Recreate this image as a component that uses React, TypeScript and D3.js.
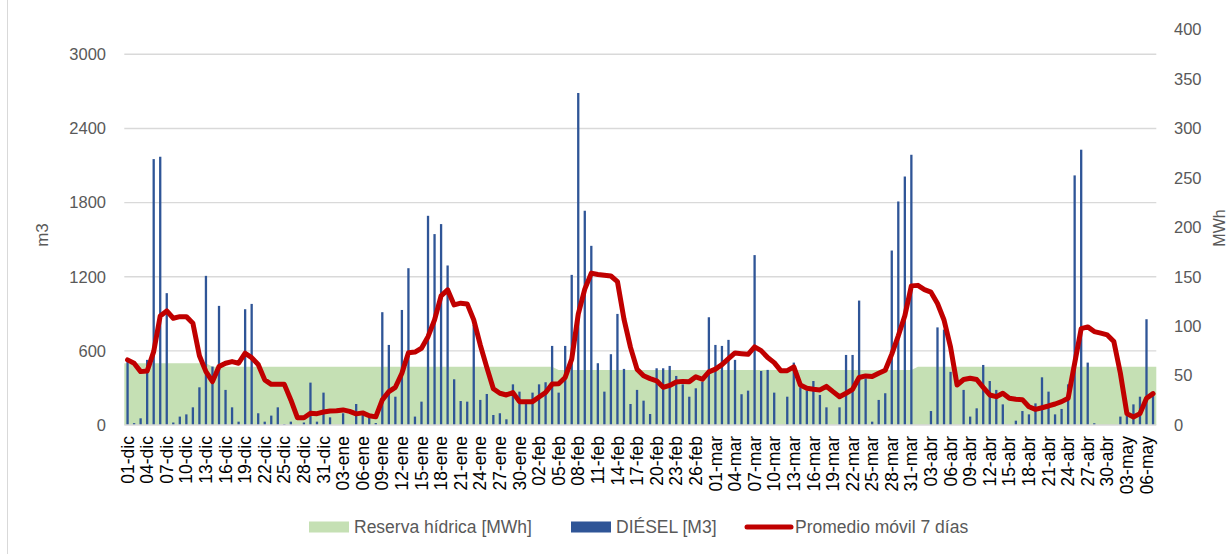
import React, { useEffect, useRef } from 'react';
import * as d3 from 'd3';

const WIDTH = 1228;
const HEIGHT = 554;
const PLOT = { left: 124.3, right: 1156.3, top: 29.6, bottom: 425 };
const FONT = "'Liberation Sans', Arial, sans-serif";

// one category per day, 01-dic .. 07-may
const MONTHS = ['dic', 'ene', 'feb', 'mar', 'abr', 'may'];
const MONTH_DAYS = [31, 31, 28, 31, 30, 7];

const DAYS: string[] = [];
MONTHS.forEach((m, i) => {
  for (let d = 1; d <= MONTH_DAYS[i]; d++) DAYS.push(`${String(d).padStart(2, '0')}-${m}`);
});

// DIÉSEL [M3], left axis
const DIESEL = [
  540, 15, 54, 527, 2152, 2171, 1067, 20, 68, 86, 143, 305, 1207, 473, 964, 284, 143, 27, 937, 980,
  95, 27, 76, 143, 8, 27, 0, 20, 343, 27, 262, 62, 0, 95, 0, 170, 81, 62, 16, 913,
  648, 229, 931, 1269, 68, 189, 1693, 1545, 1626, 1291, 370, 194, 189, 810, 203, 251, 81, 95, 46, 329,
  270, 189, 262, 329, 346, 640, 262, 640, 1215, 2687, 1734, 1450, 500, 270, 573, 899, 454, 170, 284, 197,
  89, 459, 459, 478, 397, 329, 229, 297, 350, 872, 648, 640, 689, 527, 249, 278, 1375, 437, 446, 262,
  0, 229, 505, 305, 278, 356, 243, 143, 0, 143, 567, 567, 1007, 378, 27, 203, 257, 1412, 1809, 2011,
  2187, 0, 0, 113, 790, 772, 430, 0, 284, 68, 135, 486, 356, 284, 167, 0, 35, 113, 86, 175,
  386, 270, 86, 130, 329, 2020, 2228, 505, 14, 0, 0, 0, 68, 122, 167, 229, 856, 270,
];

// Promedio móvil 7 días, left axis
const PROMEDIO = [
  527, 500, 432, 437, 594, 883, 923, 864, 877, 877, 824, 560, 432, 351, 473, 500, 513, 500, 581, 545,
  490, 365, 329, 329, 329, 203, 59, 59, 95, 92, 105, 113, 115, 122, 110, 90, 98, 75, 66, 203,
  270, 305, 419, 584, 590, 621, 715, 851, 1045, 1094, 972, 986, 980, 851, 648, 466, 293, 257, 243, 262,
  189, 189, 189, 226, 263, 331, 334, 385, 533, 898, 1100, 1229, 1218, 1212, 1206, 1161, 857, 628, 452, 398,
  375, 358, 305, 320, 348, 353, 351, 390, 370, 430, 452, 489, 537, 583, 577, 572, 632, 602, 546, 505,
  440, 440, 470, 324, 297, 289, 284, 313, 270, 229, 257, 289, 384, 397, 392, 419, 443, 574, 722, 884,
  1126, 1130, 1096, 1075, 983, 850, 630, 324, 368, 378, 368, 304, 243, 229, 257, 216, 208, 205, 148, 127,
  140, 154, 170, 189, 216, 500, 780, 794, 756, 743, 729, 675, 419, 92, 65, 92, 216, 254,
];

// Reserva hídrica [MWh], right axis
const RESERVA = [
  62.5, 62.5, 62.5, 62.5, 62.5, 62.5, 62.5, 62.5, 62.5, 62.5, 62.5, 62.5, 62.5,
  59, 59, 59, 59, 59, 59, 59, 59, 59, 59, 59, 59, 59, 59, 59, 59, 59, 59, 59, 59,
  59, 59, 59, 59, 59, 59, 59, 59, 59, 59, 59, 59, 59, 59, 59, 59, 59, 59, 59, 59,
  59, 59, 59, 59, 59, 59, 59, 59, 59, 59, 59, 59, 59,
  55.7, 55.7, 55.7, 55.7, 55.7, 55.7, 55.7, 55.7, 55.7, 55.7, 55.7, 55.7, 55.7, 55.7,
  55.7, 55.7, 55.7, 55.7, 55.7, 55.7, 55.7, 55.7, 55.7, 55.7, 55.7, 55.7, 55.7, 55.7,
  55.7, 55.7, 55.7, 55.7, 55.7, 55.7, 55.7, 55.7, 55.7, 55.7, 55.7, 55.7, 55.7, 55.7,
  55.7, 55.7, 55.7, 55.7, 55.7, 55.7, 55.7, 55.7, 55.7, 55.7, 55.7, 55.7, 55.7,
  59, 59, 59, 59, 59, 59, 59, 59, 59, 59, 59, 59, 59, 59, 59, 59, 59, 59, 59,
  59, 59, 59, 59, 59, 59, 59, 59, 59, 59, 59, 59, 59, 59, 59, 59, 59, 59,
];

const LEFT_TICKS = [0, 600, 1200, 1800, 2400, 3000];
const RIGHT_TICKS = [0, 50, 100, 150, 200, 250, 300, 350, 400];

const LEGEND = [
  { label: 'Reserva hídrica [MWh]', kind: 'area', color: '#C5E0B4', x: 309 },
  { label: 'DIÉSEL [M3]', kind: 'bar', color: '#2F5597', x: 571 },
  { label: 'Promedio móvil 7 días', kind: 'line', color: '#C00000', x: 747 },
];

const App: React.FC = () => {
  const svgRef = useRef<SVGSVGElement>(null);

  useEffect(() => {
    if (!svgRef.current) return;
    const svg = d3.select(svgRef.current);
    svg.selectAll('*').remove();

    const x = d3.scaleBand<string>().domain(DAYS).range([PLOT.left, PLOT.right]).paddingInner(0).paddingOuter(0);
    const bw = x.bandwidth();
    const cx = (i: number) => (x(DAYS[i]) as number) + bw / 2;
    const yL = d3.scaleLinear().domain([0, 3200]).range([PLOT.bottom, PLOT.top]);
    const yR = d3.scaleLinear().domain([0, 400]).range([PLOT.bottom, PLOT.top]);

    svg.append('rect').attr('width', WIDTH).attr('height', HEIGHT).attr('fill', '#fff');
    svg.append('line')
      .attr('x1', 7.5).attr('x2', 7.5).attr('y1', 0).attr('y2', HEIGHT)
      .attr('stroke', '#D9D9D9').attr('stroke-width', 1);

    // gridlines (left axis)
    svg.append('g').selectAll('line').data(LEFT_TICKS.slice(1)).join('line')
      .attr('x1', PLOT.left).attr('x2', PLOT.right)
      .attr('y1', d => yL(d)).attr('y2', d => yL(d))
      .attr('stroke', '#D9D9D9').attr('stroke-width', 1.4);

    // reserva area (secondary axis), stretched to plot edges
    const pts: [number, number][] = RESERVA.map((v, i) => [cx(i), yR(v)]);
    pts.unshift([PLOT.left, yR(RESERVA[0])]);
    pts.push([PLOT.right, yR(RESERVA[RESERVA.length - 1])]);
    const area = d3.area<[number, number]>().x(d => d[0]).y0(PLOT.bottom).y1(d => d[1]);
    svg.append('path').attr('d', area(pts) as string).attr('fill', '#C5E0B4');

    // diesel bars
    const barW = 2.3;
    svg.append('g').selectAll('rect').data(DIESEL).join('rect')
      .attr('x', (_, i) => cx(i) - barW / 2)
      .attr('y', d => yL(d))
      .attr('width', barW)
      .attr('height', d => PLOT.bottom - yL(d))
      .attr('fill', '#2F5597');

    // baseline
    svg.append('line')
      .attr('x1', PLOT.left).attr('x2', PLOT.right)
      .attr('y1', PLOT.bottom).attr('y2', PLOT.bottom)
      .attr('stroke', '#D9D9D9').attr('stroke-width', 1.6);

    // moving average
    const line = d3.line<number>().x((_, i) => cx(i)).y(d => yL(d)).curve(d3.curveLinear);
    svg.append('path').attr('d', line(PROMEDIO) as string)
      .attr('fill', 'none').attr('stroke', '#C00000').attr('stroke-width', 5)
      .attr('stroke-linejoin', 'round').attr('stroke-linecap', 'round');

    // left axis labels
    svg.append('g').selectAll('text').data(LEFT_TICKS).join('text')
      .attr('x', 106).attr('y', d => yL(d)).attr('dy', '0.35em')
      .attr('text-anchor', 'end').attr('fill', '#595959')
      .style('font-family', FONT).style('font-size', '16.5px')
      .text(d => String(d));

    // right axis labels
    svg.append('g').selectAll('text').data(RIGHT_TICKS).join('text')
      .attr('x', 1174).attr('y', d => yR(d)).attr('dy', '0.35em')
      .attr('text-anchor', 'start').attr('fill', '#595959')
      .style('font-family', FONT).style('font-size', '16.5px')
      .text(d => String(d));

    // category labels, every 3rd day
    const shown = DAYS.filter((_, i) => i % 3 === 0);
    svg.append('g').selectAll('text').data(shown).join('text')
      .attr('transform', d => `translate(${(x(d) as number) + bw / 2}, 436) rotate(-90)`)
      .attr('dy', '0.35em')
      .attr('text-anchor', 'end').attr('fill', '#000')
      .style('font-family', FONT).style('font-size', '17.5px')
      .text(d => d);

    // axis titles
    svg.append('text')
      .attr('transform', 'translate(42, 235) rotate(-90)')
      .attr('dy', '0.35em').attr('text-anchor', 'middle').attr('fill', '#595959')
      .style('font-family', FONT).style('font-size', '17px')
      .text('m3');
    svg.append('text')
      .attr('transform', 'translate(1225, 228) rotate(-90)')
      .attr('text-anchor', 'middle').attr('fill', '#595959')
      .style('font-family', FONT).style('font-size', '16px')
      .text('MWh');

    // legend
    const ly = 527;
    LEGEND.forEach(item => {
      const g = svg.append('g');
      let tx = item.x + 45;
      if (item.kind === 'line') {
        g.append('line').attr('x1', item.x).attr('x2', item.x + 44).attr('y1', ly).attr('y2', ly)
          .attr('stroke', item.color).attr('stroke-width', 5).attr('stroke-linecap', 'round');
        tx = item.x + 48;
      } else {
        g.append('rect').attr('x', item.x).attr('y', ly - 5.5).attr('width', 40).attr('height', 11)
          .attr('fill', item.color);
      }
      g.append('text').attr('x', tx).attr('y', ly).attr('dy', '0.35em')
        .attr('fill', '#595959')
        .style('font-family', FONT).style('font-size', '17.5px')
        .text(item.label);
    });
  }, []);

  return (
    <div style={{ position: 'fixed', left: 0, top: 0, width: WIDTH, height: HEIGHT, background: '#fff' }}>
      <svg ref={svgRef} width={WIDTH} height={HEIGHT} style={{ display: 'block' }} />
    </div>
  );
};

export default App;
